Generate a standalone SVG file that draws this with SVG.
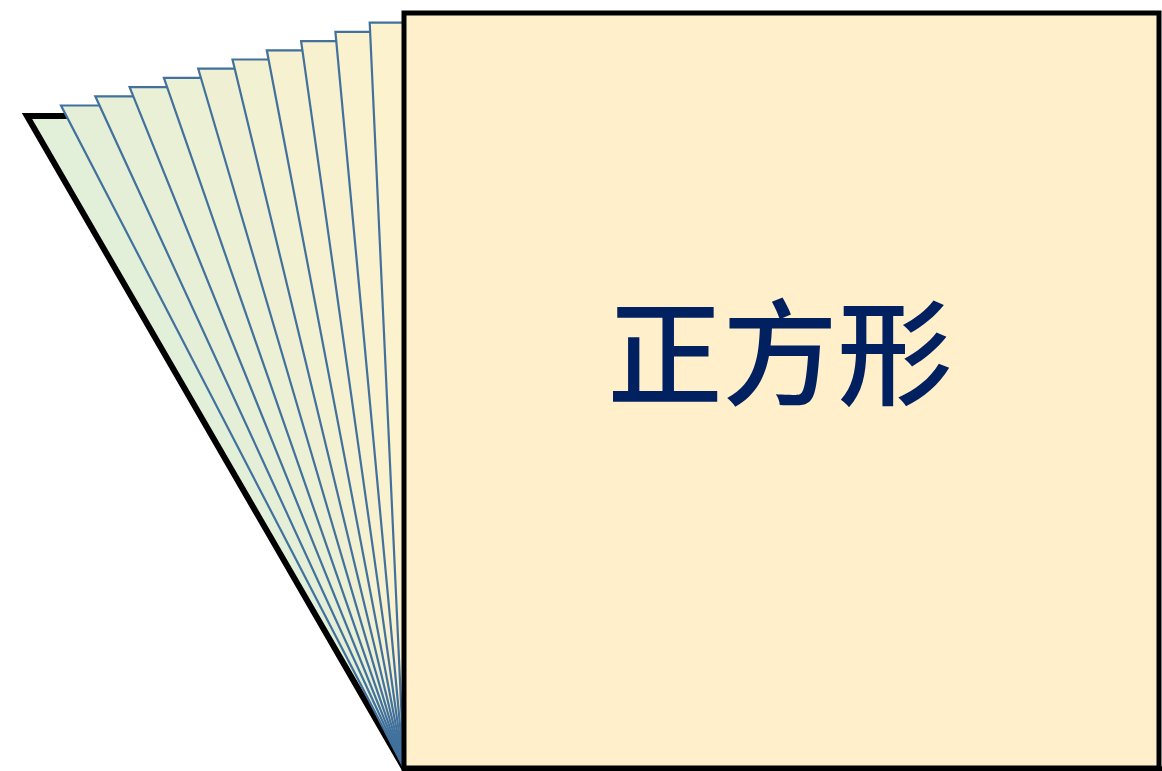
<svg xmlns="http://www.w3.org/2000/svg" width="1162" height="771" viewBox="0 0 1162 771">
<style>
.back{stroke:#000;stroke-width:6;stroke-linejoin:miter}
.leaf{stroke:#41719C;stroke-width:2.2;stroke-linejoin:miter}
.main{fill:#FFF0CB;stroke:#000;stroke-width:5}
.lbl{font-family:"Noto Sans CJK SC","Noto Sans CJK JP",sans-serif;font-weight:500;font-size:115px;fill:#002060;text-anchor:middle}
</style>
<rect width="1162" height="771" fill="#FFFFFF"/>
<g id="fan">
<polygon id="leaf0" class="back" fill="#E2EFD9" points="404,768 27,116 782,116 1159,768"/>
<polygon id="leaf1" class="leaf" fill="#E5EFD8" points="404,768 61,105.5 816,105.5 1159,768"/>
<polygon id="leaf2" class="leaf" fill="#E7F0D7" points="404,768 95.3,96.3 850,96.3 1159,768"/>
<polygon id="leaf3" class="leaf" fill="#EAF0D5" points="404,768 129.6,87.1 885,87.1 1159,768"/>
<polygon id="leaf4" class="leaf" fill="#ECF0D4" points="404,768 163.9,77.9 919,77.9 1159,768"/>
<polygon id="leaf5" class="leaf" fill="#EFF0D3" points="404,768 198.2,68.7 953,68.7 1159,768"/>
<polygon id="leaf6" class="leaf" fill="#F2F1D2" points="404,768 232.5,59.5 987,59.5 1159,768"/>
<polygon id="leaf7" class="leaf" fill="#F5F1D1" points="404,768 266.8,50.3 1022,50.3 1159,768"/>
<polygon id="leaf8" class="leaf" fill="#F7F1CF" points="404,768 301.1,41.1 1056,41.1 1159,768"/>
<polygon id="leaf9" class="leaf" fill="#FAF2CE" points="404,768 335.4,31.9 1090,31.9 1159,768"/>
<polygon id="leaf10" class="leaf" fill="#FCF2CD" points="404,768 369.7,22.7 1125,22.7 1159,768"/>
</g>
<g id="square">
<rect class="main" x="404" y="13" width="755" height="755"/>
<text class="lbl" x="780" y="396">正方形</text>
</g>
<g id="connectors"></g>
</svg>
